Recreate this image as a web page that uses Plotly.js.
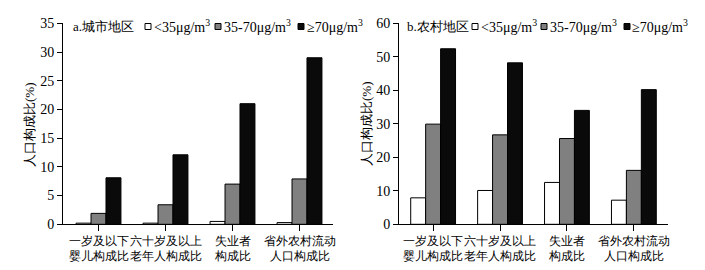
<!DOCTYPE html>
<html><head><meta charset="utf-8">
<script src="https://cdn.plot.ly/plotly-3.0.1.min.js"></script>
<style>html,body{margin:0;padding:0;background:#fff}</style>
</head><body><div id="chart" style="width:705px;height:270px"></div>
<script>
const categories = ['一岁及以下<br>婴儿构成比','六十岁及以上<br>老年人构成比','失业者<br>构成比','省外农村流动<br>人口构成比'];
const seriesNames = ['<35μg/m<sup>3</sup>','35-70μg/m<sup>3</sup>','≥70μg/m<sup>3</sup>'];
const urbanLow = [0.2, 0.2, 0.5, 0.3];
const urbanMid = [1.9, 3.4, 7.0, 7.9];
const urbanHigh = [8.1, 12.1, 21.0, 29.0];
const ruralLow = [7.9, 10.1, 12.5, 7.2];
const ruralMid = [29.9, 26.7, 25.6, 16.1];
const ruralHigh = [52.4, 48.2, 34.0, 40.2];
const urbanTitle = 'a.城市地区';
const ruralTitle = 'b.农村地区';
const yTitle = '人口构成比(%)';

const W = 705, H = 270;
const px = x => x / W, py = y => 1 - y / H;
const colors = ['#ffffff', '#808080', '#0a0a0a'];
const serif = 'Liberation Serif';

function bars(vals, xa, ya) {
  return vals.map((v, i) => ({
    type: 'bar', x: categories, y: v, xaxis: xa, yaxis: ya,
    name: seriesNames[i], showlegend: false,
    marker: {color: colors[i], line: {color: '#000', width: 1}},
    hoverinfo: 'y'
  }));
}
const data = [
  ...bars([urbanLow, urbanMid, urbanHigh], 'x', 'y'),
  ...bars([ruralLow, ruralMid, ruralHigh], 'x2', 'y2')
];

const xCommon = {
  type: 'category', showline: true, linecolor: '#000', linewidth: 1,
  ticks: 'outside', ticklen: 6, tickcolor: '#000', tickwidth: 1, tickangle: 0,
  showgrid: false, zeroline: false, fixedrange: true,
  tickfont: {family: serif, size: 11.5, color: '#000'}
};
const yCommon = {
  showline: true, linecolor: '#000', linewidth: 1,
  ticks: 'outside', ticklen: 5, tickcolor: '#000', tickwidth: 1,
  showgrid: false, zeroline: false, fixedrange: true,
  tickfont: {family: serif, size: 14, color: '#000'}
};
const yDom = [py(224.3), py(23.3)];

// legend layout (pixel positions)
const legendSpec = [
  {title: urbanTitle, titleX: 71, sw: [145, 215, 298], tx: [152, 222, 305], yTitleX: 29},
  {title: ruralTitle, titleX: 405, sw: [472, 541, 624], tx: [479, 548, 630], yTitleX: 366}
];
const annotations = [], shapes = [];
const legY = 26.5;
legendSpec.forEach(s => {
  annotations.push({xref: 'paper', yref: 'paper', x: px(s.titleX), y: py(legY), xanchor: 'left', yanchor: 'middle',
    text: s.title, showarrow: false, font: {family: serif, size: 13, color: '#000'}});
  annotations.push({xref: 'paper', yref: 'paper', x: px(s.yTitleX), y: py(124), xanchor: 'center', yanchor: 'middle',
    text: yTitle, textangle: -90, showarrow: false, font: {family: serif, size: 13, color: '#000'}});
  s.sw.forEach((x, i) => {
    shapes.push({type: 'rect', xref: 'paper', yref: 'paper', x0: px(x), x1: px(x + 6), y0: py(legY + 3), y1: py(legY - 3),
      fillcolor: colors[i], line: {color: '#000', width: 1}});
    annotations.push({xref: 'paper', yref: 'paper', x: px(s.tx[i]), y: py(legY), xanchor: 'left', yanchor: 'middle',
      text: seriesNames[i], showarrow: false, font: {family: serif, size: 14, color: '#000'}});
  });
});

const layout = {
  width: W, height: H, margin: {l: 0, r: 0, t: 0, b: 0},
  paper_bgcolor: '#fff', plot_bgcolor: '#fff',
  showlegend: false, barmode: 'group', bargap: 0.33, bargroupgap: 0,
  xaxis: Object.assign({}, xCommon, {domain: [px(63), px(333)], range: [-0.53, 3.5], anchor: 'y'}),
  xaxis2: Object.assign({}, xCommon, {domain: [px(399), px(668)], range: [-0.51, 3.51], anchor: 'y2'}),
  yaxis: Object.assign({}, yCommon, {domain: yDom, range: [0, 35], tickvals: [0,5,10,15,20,25,30,35], anchor: 'x'}),
  yaxis2: Object.assign({}, yCommon, {domain: yDom, range: [0, 60], tickvals: [0,10,20,30,40,50,60], anchor: 'x2'}),
  annotations, shapes,
  font: {family: serif, color: '#000'}
};
Plotly.newPlot('chart', data, layout, {displayModeBar: false, staticPlot: true});
</script></body></html>
